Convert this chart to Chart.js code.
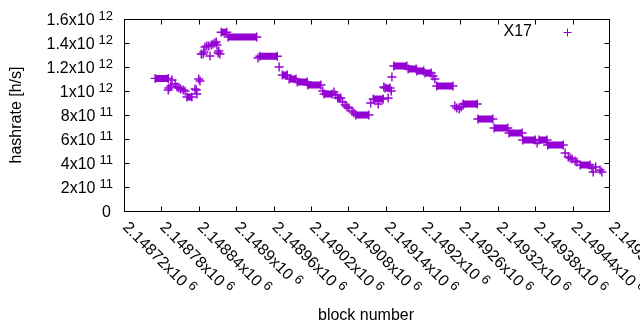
<!DOCTYPE html>
<html>
<head>
<meta charset="utf-8">
<script src="https://cdn.jsdelivr.net/npm/chart.js@4/dist/chart.umd.min.js"></script>
<style>
  html, body { margin: 0; padding: 0; background: #fff; }
  #wrap { width: 640px; height: 330px; }
</style>
</head>
<body>
<div id="wrap"><canvas id="chartHashrate" width="640" height="330"></canvas></div>
<script>
// runs of blocks with the same hashrate (drawn as solid bars of "+")
const plateauStart = [2148770, 2148821, 2148876, 2148887, 2148938, 2148974, 2148985, 2148998, 2149015,
  2149041, 2149063, 2149092, 2149120, 2149139, 2149153, 2149176, 2149190, 2149203, 2149222, 2149264,
  2149288, 2149314, 2149338, 2149360, 2149386, 2149400, 2149452];
const plateauEnd = [2148791, 2148829, 2148885, 2148933, 2148966, 2148982, 2148996, 2149014, 2149036,
  2149054, 2149068, 2149113, 2149136, 2149147, 2149174, 2149189, 2149201, 2149213, 2149248, 2149287,
  2149312, 2149336, 2149359, 2149380, 2149399, 2149425, 2149468];
const plateauHash = [1.105e12, 0.95e12, 1.49e12, 1.45e12, 1.29e12, 1.133e12, 1.1e12, 1.075e12, 1.05e12,
  0.975e12, 0.942e12, 0.8e12, 0.933e12, 1.025e12, 1.208e12, 1.183e12, 1.167e12, 1.15e12, 1.042e12, 0.892e12,
  0.767e12, 0.692e12, 0.65e12, 0.592e12, 0.592e12, 0.55e12, 0.383e12];

// single blocks
const pointBlock = [2148791, 2148792, 2148795, 2148797, 2148802, 2148805, 2148808, 2148811, 2148815, 2148818,
  2148834, 2148836, 2148837, 2148840, 2148842,
  2148844, 2148847, 2148848, 2148850, 2148853, 2148856, 2148858, 2148860, 2148863, 2148866, 2148868,
  2148869, 2148871, 2148872, 2148874, 2148935,
  2148969, 2149039, 2149057, 2149060, 2149071, 2149075, 2149078, 2149081, 2149086, 2149089, 2149116,
  2149128, 2149137, 2149144, 2149149, 2149150, 2149216, 2149219, 2149251, 2149254, 2149258, 2149261,
  2149383, 2149428, 2149433, 2149436, 2149439, 2149444, 2149447, 2149471, 2149473, 2149477, 2149484, 2149487];
const pointHash = [1.008e12, 1.025e12, 1.042e12, 1.092e12, 1.058e12, 1.033e12, 1.025e12, 1.017e12, 1.008e12, 1.0e12,
  1.017e12, 1.008e12, 0.975e12, 1.1e12, 1.083e12,
  1.308e12, 1.308e12, 1.325e12, 1.367e12, 1.375e12, 1.375e12, 1.292e12, 1.383e12, 1.392e12, 1.4e12, 1.408e12,
  1.383e12, 1.317e12, 1.333e12, 1.308e12, 1.275e12,
  1.2e12, 1.0e12, 0.992e12, 0.967e12, 0.908e12, 0.883e12, 0.867e12, 0.858e12, 0.833e12, 0.817e12, 0.9e12,
  0.892e12, 1.033e12, 0.942e12, 1.0e12, 1.117e12, 1.125e12, 1.1e12, 0.875e12, 0.858e12, 0.85e12, 0.867e12,
  0.567e12, 0.483e12, 0.45e12, 0.442e12, 0.433e12, 0.417e12, 0.408e12, 0.358e12, 0.325e12, 0.367e12, 0.342e12, 0.325e12];

const xTicks = [2148720, 2148780, 2148840, 2148900, 2148960, 2149020, 2149080, 2149140, 2149200,
  2149260, 2149320, 2149380, 2149440, 2149500];
const xTickLabels = ['2.14872', '2.14878', '2.14884', '2.1489', '2.14896', '2.14902', '2.14908', '2.14914',
  '2.1492', '2.14926', '2.14932', '2.14938', '2.14944', '2.1495'];
const yTicks = [0, 2e11, 4e11, 6e11, 8e11, 1e12, 1.2e12, 1.4e12, 1.6e12];
const yTickLabels = ['0', '2', '4', '6', '8', '1', '1.2', '1.4', '1.6'];
const yTickExps = ['', '11', '11', '11', '11', '12', '12', '12', '12'];

const PURPLE = '#9400d3';
const FONT = '"Liberation Sans", Arial, sans-serif';

const plateauData = [];
for (let i = 0; i < plateauStart.length; i++) {
  plateauData.push({ x: plateauStart[i], y: plateauHash[i] });
  plateauData.push({ x: plateauEnd[i], y: plateauHash[i] });
  plateauData.push({ x: plateauEnd[i], y: null });
}
const singleData = pointBlock.map((b, i) => ({ x: b, y: pointHash[i] }));

// gnuplot style frame, inward ticks, labels with exponents
const gnuplotLook = {
  id: 'gnuplotLook',
  afterDraw(chart) {
    const { ctx, chartArea: a, scales } = chart;
    const sx = scales.x, sy = scales.y;
    const L = Math.floor(a.left) + 0.5, R = Math.floor(a.right) - 0.5;
    const T = Math.floor(a.top) + 0.5, B = Math.floor(a.bottom) + 0.5;
    ctx.save();
    ctx.strokeStyle = '#000';
    ctx.fillStyle = '#000';
    ctx.lineWidth = 1;

    // ticks
    ctx.beginPath();
    xTicks.forEach(v => {
      if (v === xTicks[0] || v === xTicks[xTicks.length - 1]) return;
      const px = Math.round(sx.getPixelForValue(v)) + 0.5;
      ctx.moveTo(px, B); ctx.lineTo(px, B - 5);
      ctx.moveTo(px, T); ctx.lineTo(px, T + 5);
    });
    yTicks.forEach(v => {
      if (v === yTicks[0] || v === yTicks[yTicks.length - 1]) return;
      const py = Math.round(sy.getPixelForValue(v)) + 0.5;
      ctx.moveTo(L, py); ctx.lineTo(L + 5, py);
      ctx.moveTo(R, py); ctx.lineTo(R - 5, py);
    });
    ctx.stroke();
    ctx.strokeRect(L, T, R - L, B - T);

    // y tick labels
    yTicks.forEach((v, i) => {
      const py = sy.getPixelForValue(v);
      ctx.textAlign = 'right';
      ctx.textBaseline = 'alphabetic';
      if (!yTickExps[i]) {
        ctx.font = '16px ' + FONT;
        ctx.fillText(yTickLabels[i], 111, py + 5.7);
        return;
      }
      ctx.font = '13px ' + FONT;
      const ew = ctx.measureText(yTickExps[i]).width;
      ctx.fillText(yTickExps[i], 113, py + 0.5);
      ctx.font = '16px ' + FONT;
      ctx.fillText(yTickLabels[i] + 'x10', 113 - ew - 4, py + 5.7);
    });

    // x tick labels, rotated down to the right
    xTicks.forEach((v, i) => {
      const px = sx.getPixelForValue(v);
      ctx.save();
      ctx.translate(px + 2, a.bottom + 13);
      ctx.rotate(Math.PI / 4);
      ctx.textAlign = 'left';
      ctx.textBaseline = 'alphabetic';
      ctx.font = '16px ' + FONT;
      const txt = xTickLabels[i] + 'x10';
      ctx.fillText(txt, 0, 5.7);
      const w = ctx.measureText(txt).width;
      ctx.font = '13px ' + FONT;
      ctx.fillText('6', w + 4, 0.5);
      ctx.restore();
    });

    // axis titles
    ctx.font = '16px ' + FONT;
    ctx.textAlign = 'center';
    ctx.textBaseline = 'middle';
    ctx.fillText('block number', 366, 316);
    ctx.save();
    ctx.translate(17, (a.top + a.bottom) / 2);
    ctx.rotate(-Math.PI / 2);
    ctx.fillText('hashrate [h/s]', 0, 0);
    ctx.restore();

    // key
    ctx.textAlign = 'right';
    ctx.fillText('X17', 532, 32);
    ctx.strokeStyle = PURPLE;
    ctx.beginPath();
    ctx.moveTo(563.5, 32.5); ctx.lineTo(571.5, 32.5);
    ctx.moveTo(567.5, 28.5); ctx.lineTo(567.5, 36.5);
    ctx.stroke();
    ctx.restore();
  }
};

new Chart(document.getElementById('chartHashrate'), {
  type: 'scatter',
  data: {
    datasets: [
      {
        label: 'X17',
        data: plateauData,
        showLine: true,
        spanGaps: false,
        borderColor: PURPLE,
        borderWidth: 7,
        borderCapStyle: 'butt',
        pointStyle: 'cross',
        pointRadius: 4.5,
        pointBorderWidth: 1.4,
        pointBorderColor: PURPLE,
        pointBackgroundColor: PURPLE,
      },
      {
        label: 'X17 single',
        data: singleData,
        pointStyle: 'cross',
        pointRadius: 4.5,
        pointBorderWidth: 1.4,
        pointBorderColor: PURPLE,
        pointBackgroundColor: PURPLE,
      },
    ],
  },
  options: {
    responsive: false,
    animation: false,
    events: [],
    layout: { padding: { left: 124, right: 30, top: 19, bottom: 119 } },
    plugins: { legend: { display: false }, tooltip: { enabled: false } },
    scales: {
      x: { type: 'linear', display: false, min: 2148720, max: 2149500 },
      y: { type: 'linear', display: false, min: 0, max: 1.6e12 },
    },
  },
  plugins: [gnuplotLook],
});
</script>
</body>
</html>
